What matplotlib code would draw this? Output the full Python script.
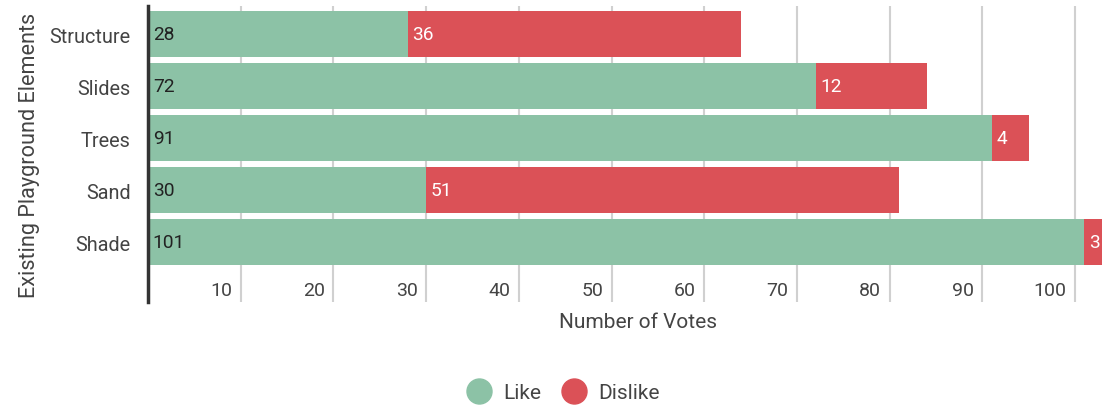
import matplotlib.pyplot as plt
import numpy as np

plt.rcParams['font.family'] = ['Roboto', 'DejaVu Sans']

# data
categories = ['Structure', 'Slides', 'Trees', 'Sand', 'Shade']
like = [28, 72, 91, 30, 101]
dislike = [36, 12, 4, 51, 3]
xticks = [10, 20, 30, 40, 50, 60, 70, 80, 90, 100]

green = '#8cc2a6'
red = '#db5157'

fig = plt.figure(figsize=(11.02, 4.06), dpi=100)
ax = fig.add_axes([148 / 1102, 103 / 406, 1 - 148 / 1102, 296 / 406])

y = np.arange(len(categories))
ax.barh(y, like, height=0.885, color=green, zorder=2)
ax.barh(y, dislike, left=like, height=0.885, color=red, zorder=2)

# value labels inside the bars
for i in range(len(categories)):
    ax.annotate(str(like[i]), (0, y[i]), xytext=(3.5, 0), textcoords='offset points',
                va='center', ha='left', fontsize=13.8, color='#222222', zorder=3)
    ax.annotate(str(dislike[i]), (like[i], y[i]), xytext=(3.5, 0), textcoords='offset points',
                va='center', ha='left', fontsize=13.8, color='white', zorder=3,
                annotation_clip=False)

ax.set_xlim(0, 102.9)
ax.set_ylim(len(categories) - 1 + 1.15, -0.54)

ax.set_yticks(y)
ax.set_yticklabels(categories, fontsize=14.3, color='#444444')
ax.tick_params(axis='y', length=0, pad=12.5)

# gridlines full height, tick labels drawn inside the axes
ax.set_xticks(xticks)
ax.set_xticklabels([])
ax.tick_params(axis='x', length=0)
ax.grid(axis='x', color='#d0d0d0', linewidth=1.5, zorder=0)
for t in xticks:
    ax.annotate(str(t), (t, 4.92), xytext=(-6, 0), textcoords='offset points',
                ha='right', va='center', fontsize=14, color='#444444')

for s in ['top', 'right', 'bottom']:
    ax.spines[s].set_visible(False)
ax.spines['left'].set_color('#333333')
ax.spines['left'].set_linewidth(2.5)
ax.spines['left'].set_zorder(4)

fig.text(638 / 1102, 1 - 323 / 406, 'Number of Votes', ha='center', va='center',
         fontsize=15, color='#444444')
fig.text(30 / 1102, 1 - 155 / 406, 'Existing Playground Elements', ha='center', va='center',
         rotation=90, fontsize=15.6, color='#444444')

# legend
handles = [plt.Line2D([], [], marker='o', linestyle='', markersize=18, color=green),
           plt.Line2D([], [], marker='o', linestyle='', markersize=18, color=red)]
fig.legend(handles, ['Like', 'Dislike'], loc='center', bbox_to_anchor=(563 / 1102, 1 - 394 / 406),
           ncol=2, frameon=False, fontsize=15, labelcolor='#444444',
           handletextpad=0.55, columnspacing=1.0, handlelength=1.2)

fig.savefig('out.png', dpi=100)
